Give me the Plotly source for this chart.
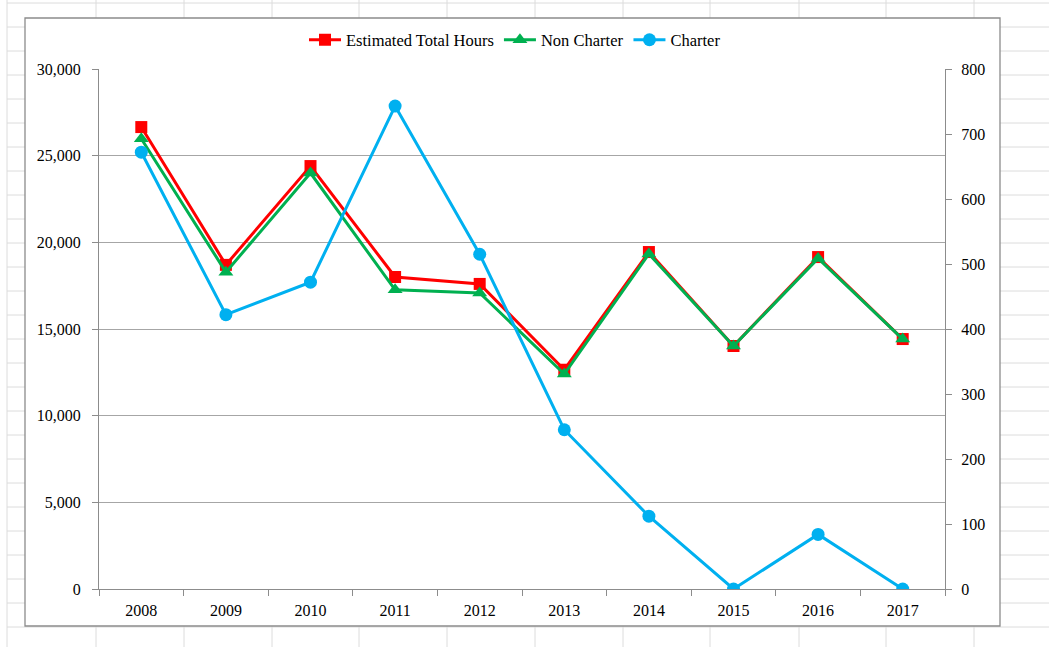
import plotly.graph_objects as go

years = ["2008", "2009", "2010", "2011", "2012", "2013", "2014", "2015", "2016", "2017"]
total_hours = [26650, 18700, 24400, 18000, 17600, 12650, 19440, 14020, 19150, 14420]
non_charter = [25980, 18280, 24000, 17260, 17080, 12400, 19330, 14020, 19070, 14420]
charter = [672, 422, 472, 743, 515, 245, 112, 0, 84, 0]

W, H = 1049, 647
L, R, T, B = 99, 945, 69, 589
FONT = "Liberation Serif"

def px_x(px):
    return (px - L) / (R - L)

def px_y(py):
    return (B - py) / (B - T)

fig = go.Figure()

fig.add_trace(go.Scatter(
    x=years, y=total_hours, name="Estimated Total Hours", mode="lines+markers",
    line=dict(color="#FF0000", width=3),
    marker=dict(symbol="square", size=12, color="#FF0000"),
))
fig.add_trace(go.Scatter(
    x=years, y=non_charter, name="Non Charter", mode="lines+markers",
    line=dict(color="#00B050", width=3),
    marker=dict(symbol="triangle-up", size=13, color="#00B050"),
))
fig.add_trace(go.Scatter(
    x=years, y=charter, name="Charter", mode="lines+markers", yaxis="y2",
    line=dict(color="#00B0F0", width=3),
    marker=dict(symbol="circle", size=13, color="#00B0F0"),
))

shapes = []
# spreadsheet grid behind chart
col_x = [7, 96, 184, 272, 359, 447, 535, 623, 710, 799, 886, 974]
for cx in col_x:
    shapes.append(dict(type="line", xref="paper", yref="paper", layer="below",
                       x0=px_x(cx), x1=px_x(cx), y0=px_y(0), y1=px_y(H),
                       line=dict(color="#dcdcdc", width=1)))
ry = 3
while ry < H:
    shapes.append(dict(type="line", xref="paper", yref="paper", layer="below",
                       x0=px_x(7), x1=px_x(W), y0=px_y(ry), y1=px_y(ry),
                       line=dict(color="#dcdcdc", width=1)))
    ry += 24
# chart area
shapes.append(dict(type="rect", xref="paper", yref="paper", layer="below",
                   x0=px_x(25), x1=px_x(1000), y0=px_y(626), y1=px_y(18),
                   fillcolor="white", line=dict(color="#8c8c8c", width=1.3)))

fig.update_layout(
    width=W, height=H,
    margin=dict(l=L, r=W - R, t=T, b=H - B, pad=0, autoexpand=False),
    paper_bgcolor="white", plot_bgcolor="rgba(0,0,0,0)",
    font=dict(family=FONT, size=16, color="#000000"),
    shapes=shapes,
    showlegend=True,
    legend=dict(orientation="h", xref="container", yref="container",
                x=515 / W, xanchor="center", y=1 - 40 / H, yanchor="middle",
                font=dict(family=FONT, size=16.5), itemwidth=32,
                bgcolor="rgba(0,0,0,0)", traceorder="normal", tracegroupgap=0),
    xaxis=dict(type="category", range=[-0.5, 9.5], showgrid=False,
               showline=True, linecolor="#8c8c8c", linewidth=1.3,
               ticks="outside", tickson="boundaries", ticklen=6, tickcolor="#8c8c8c",
               tickfont=dict(family=FONT, size=16), ticklabelstandoff=7,
               zeroline=False, fixedrange=True),
    yaxis=dict(range=[0, 30000], tickvals=[0, 5000, 10000, 15000, 20000, 25000, 30000],
               tickformat=",d", showgrid=True, gridcolor="#a6a6a6", gridwidth=1.3,
               showline=True, linecolor="#8c8c8c", linewidth=1.3,
               ticks="outside", ticklen=6, tickcolor="#8c8c8c",
               tickfont=dict(family=FONT, size=16), ticklabelstandoff=8,
               zeroline=False),
    yaxis2=dict(range=[0, 800], tickvals=[0, 100, 200, 300, 400, 500, 600, 700, 800],
                overlaying="y", side="right", showgrid=False,
                showline=True, linecolor="#8c8c8c", linewidth=1.3,
                ticks="outside", ticklen=6, tickcolor="#8c8c8c",
                tickfont=dict(family=FONT, size=16), ticklabelstandoff=6,
                zeroline=False),
)

fig.write_html("out.html", config={"displayModeBar": False},
               post_script="document.body.style.margin='0';document.body.style.overflow='hidden';")
